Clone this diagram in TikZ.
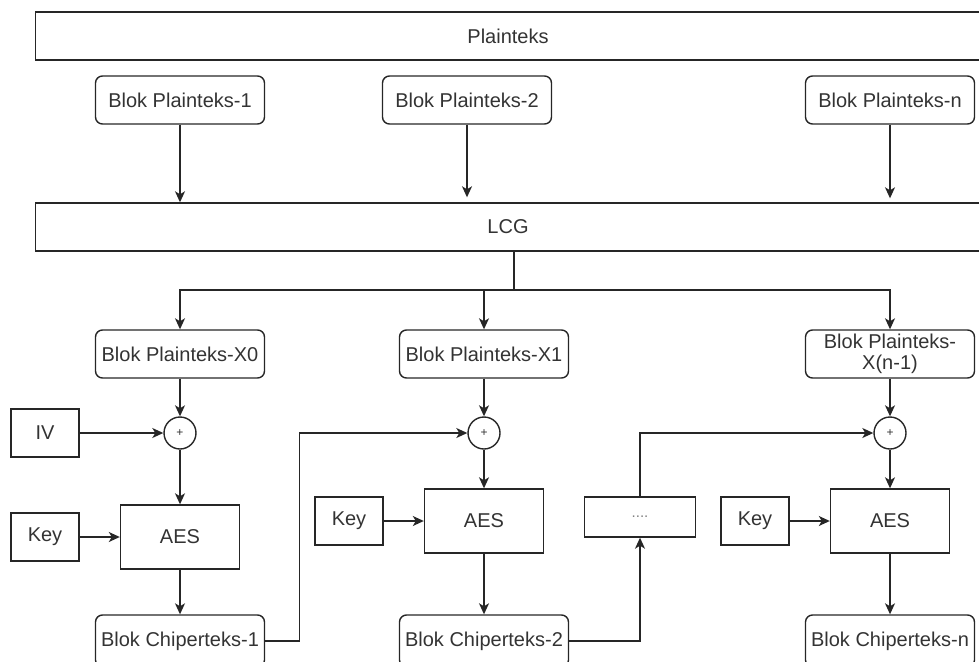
\documentclass[tikz,border=0pt]{standalone}
\usepackage{fontspec}
\setmainfont{Liberation Sans}
\usetikzlibrary{arrows.meta,positioning}

\begin{document}
\begin{tikzpicture}[x=1pt, y=1pt, line width=1.4pt, >={Stealth[length=11pt,width=10pt,inset=3pt]}]
        \tikzstyle{wide}=[rectangle, draw=black!85, text=black!80, minimum width=945pt, minimum height=48pt, font=\fontsize{20}{24}\selectfont]
        \tikzstyle{blok}=[rectangle, rounded corners=7pt, draw=black!85, text=black!80, minimum width=169pt, minimum height=48pt, inner sep=2pt, align=center, font=\fontsize{20}{21}\selectfont]
        \tikzstyle{kecil}=[rectangle, draw=black!85, text=black!80, minimum width=68pt, minimum height=48pt, font=\fontsize{20}{24}\selectfont]
        \tikzstyle{aes}=[rectangle, draw=black!85, text=black!80, minimum width=119pt, minimum height=64pt, font=\fontsize{20}{24}\selectfont]
        \tikzstyle{xor}=[circle, draw=black!85, text=black!80, minimum size=32pt, inner sep=0pt, font=\fontsize{12}{12}\selectfont]
        \tikzstyle{arr}=[->, draw=black!85]
        \useasboundingbox (0,0) rectangle (979,-661);
        \clip (0,0) rectangle (979,-661);
        \begin{scope}[node distance=135pt]
          \node [wide] (plain) at (508,-36) {Plainteks};
          \node [blok] (p1) at (180,-100) {Blok Plainteks-1};
          \node [blok] (p2) at (467,-100) {Blok Plainteks-2};
          \node [blok] (pn) at (890,-100) {Blok Plainteks-n};
          \node [wide] (lcg) at (508,-227) {LCG};
          % kolom pertama
          \node [blok] (x0) at (180,-354) {Blok Plainteks-X0};
          \node [xor] (xor0) [below of=x0, node distance=79pt] {+};
          \node [aes] (aes0) [below of=xor0, node distance=104pt] {AES};
          \node [blok, minimum height=52pt] (c1) [below of=aes0, node distance=104pt] {Blok Chiperteks-1};
          \node [kecil] (iv) [left of=xor0] {IV};
          \node [kecil] (key0) [left of=aes0] {Key};
          % kolom kedua
          \node [blok] (x1) at (484,-354) {Blok Plainteks-X1};
          \node [xor] (xor1) [below of=x1, node distance=79pt] {+};
          \node [aes] (aes1) [below of=xor1, node distance=88pt] {AES};
          \node [blok, minimum height=52pt] (c2) [below of=aes1, node distance=120pt] {Blok Chiperteks-2};
          \node [kecil] (key1) [left of=aes1] {Key};
          % kolom terakhir
          \node [blok] (xn) at (890,-354) {Blok Plainteks-\\X(n-1)};
          \node [xor] (xorn) [below of=xn, node distance=79pt] {+};
          \node [aes] (aesn) [below of=xorn, node distance=88pt] {AES};
          \node [blok, minimum height=52pt] (cn) [below of=aesn, node distance=120pt] {Blok Chiperteks-n};
          \node [kecil] (keyn) [left of=aesn] {Key};
          \node [rectangle, draw=black!85, text=black!50, minimum width=111pt, minimum height=40pt, font=\fontsize{15}{15}\selectfont] (dots) at (640,-517) {....};
        \end{scope}
        \coordinate (split) at (514,-290);
        \draw [arr] (p1.south) -- (p1.south |- lcg.north);
        \draw [arr, shorten >=5pt] (p2.south) -- (p2.south |- lcg.north);
        \draw [arr, shorten >=4pt] (pn.south) -- (pn.south |- lcg.north);
        \draw [line width=2.2pt, black!85] (lcg.south -| split) -- (split);
        \draw [arr] (split) -| (x0);
        \draw [arr] (split) -| (xn);
        \draw [arr] (x1 |- split) -- (x1);
        \foreach \a/\b in {x0/xor0, xor0/aes0, aes0/c1, iv/xor0, key0/aes0,
                           x1/xor1, xor1/aes1, aes1/c2, key1/aes1,
                           xn/xorn, xorn/aesn, aesn/cn, keyn/aesn}
          \draw [arr] (\a) -- (\b);
        \draw [arr] (c1.east) -- ++(34,0) |- (xor1.west);
        \draw [arr] (c2.east) -| (dots.south);
        \draw [arr] (dots.north) |- (xorn.west);
      \end{tikzpicture}
\end{document}
